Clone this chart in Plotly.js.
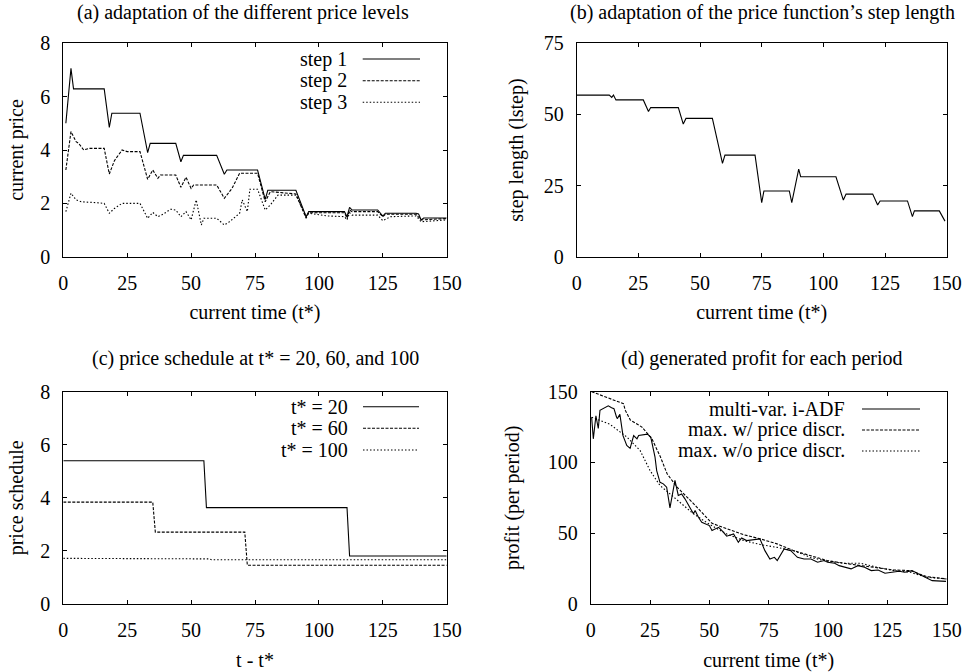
<!DOCTYPE html>
<html>
<head>
<meta charset="utf-8">
<script src="https://cdn.plot.ly/plotly-3.0.1.min.js"></script>
<style>html,body{margin:0;padding:0;background:#fff;}#chart{width:975px;height:672px;}</style>
</head>
<body>
<div id="chart"></div>
<script>
// ---------- (a) adaptation of the different price levels ----------
const aStep1T = [1,3,4,16,18,19,30,33,34,44,46,47,60,63,64,76,79,80,91,95,96,110,111,112,113,123,125,126,138,139,140,141,150];
const aStep1P = [5.0,7.06,6.29,6.29,4.85,5.38,5.38,3.9,4.25,4.25,3.56,3.8,3.8,3.09,3.25,3.25,2.15,2.49,2.49,1.5,1.69,1.69,1.5,1.85,1.75,1.75,1.52,1.63,1.63,1.6,1.38,1.45,1.45];
const aStep2T = [1,3,5,6,8,10,16,18,20,23,25,30,33,35,37,38,44,46,48,50,51,60,63,66,69,76,79,81,91,95,96,110,111,112,113,123,125,126,138,140,150];
const aStep2P = [3.25,4.69,4.31,4.25,4.0,4.06,4.06,3.1,3.6,4.0,3.94,3.94,2.9,3.25,2.94,3.06,3.06,2.6,2.98,2.56,2.69,2.69,2.19,2.56,3.13,3.13,2.06,2.44,2.35,1.44,1.65,1.65,1.44,1.75,1.69,1.69,1.5,1.59,1.59,1.38,1.43];
const aStep3T = [1,3,5,7,12,16,18,20,23,30,33,35,37,39,42,44,46,48,50,52,54,55,60,63,65,69,70,72,73,76,79,81,84,91,95,96,103,110,111,112,113,123,125,128,138,140,150];
const aStep3P = [1.69,2.38,2.13,2.06,2.03,2.0,1.63,1.81,2.0,2.0,1.44,1.66,1.5,1.59,1.78,1.75,1.5,1.69,1.38,2.13,1.19,1.44,1.44,1.19,1.31,1.63,2.13,1.69,2.53,2.53,1.75,1.94,2.31,2.31,1.5,1.63,1.53,1.5,1.38,1.65,1.56,1.56,1.35,1.5,1.53,1.31,1.38];
const aLegend = ["step 1","step 2","step 3"];

// ---------- (b) adaptation of the price function's step length ----------
const bT = [0,13.2,14.2,14.9,15.9,27.0,29.1,30.0,41.2,43.2,44.3,55.0,59.1,60.1,72.3,75.0,75.9,86.2,87.2,90.0,90.8,105.1,108.1,109.2,120.0,122.0,123.0,134.1,136.1,136.9,147.0,149.3];
const bL = [56.8,56.8,56.0,56.8,55.1,55.1,51.0,52.4,52.4,46.6,48.6,48.6,32.8,35.7,35.7,19.0,23.1,23.1,19.0,30.8,28.1,28.1,19.9,22.0,22.0,18.2,19.6,19.6,14.1,16.1,16.1,12.5];

// ---------- (c) price schedule at t* = 20, 60, and 100 ----------
const c20T = [0,55,56,111,112,150];
const c20P = [5.4,5.4,3.63,3.63,1.81,1.81];
const c60T = [0,35,36,71,72,150];
const c60P = [3.84,3.84,2.71,2.71,1.46,1.46];
const c100T = [0,28,29,57,58,150];
const c100P = [1.72,1.72,1.70,1.70,1.67,1.67];
const cLegend = ["t* = 20","t* = 60","t* = 100"];

// ---------- (d) generated profit for each period ----------
const dAdfT = [0.4,1.1,2.2,3.2,3.9,5.1,7.4,8.8,9.8,10.9,11.2,12.3,13.6,15.2,16.6,18.1,19.5,20.2,23.9,25.3,27.1,27.8,29.2,30.6,32.0,33.4,34.8,35.5,36.9,38.3,39.7,41.9,43.3,44.0,45.4,46.8,48.2,50.0,51.1,53.9,55.3,57.3,60.2,62.2,63.6,65.7,71.3,73.4,75.5,77.4,78.6,81.5,84.3,87.1,89.9,92.8,95.6,98.4,99.8,102.8,104.7,106.8,109.7,112.6,115.4,118.2,121.1,124.0,126.7,129.9,132.4,135.4,138.2,141.0,143.9,149.7];
const dAdfV = [132,116.7,133,124,136.8,138,140,138.7,138,132,131,134,119,112,110,119,116.7,119,120,117.9,103.8,94.3,86,84.9,82.5,67.9,82.5,87.3,76.7,77.8,74.3,67.2,63.7,66,61.3,57.8,56.6,55.4,51.9,54.2,51.9,47.9,49.5,43.6,46.7,44.8,46,37.7,31.8,33,30.7,38.9,37.7,33,31.8,31.8,29.5,30.7,29.5,28.8,27.1,25.9,24.8,27.1,25.9,23.6,24,21.7,22.4,23.1,22.4,23.6,21.2,18.9,16.5,16.0,16.0];
const dMaxWT = [0.4,8.1,13.8,14.6,16.7,21.6,25.8,29.4,32.2,36.4,43.4,51.1,57.4,64.4,71.5,78.5,85.5,92.5,99.6,106.6,113.6,120.6,127.7,134.7,141.6,150];
const dMaxWV = [150,145,141.5,136.8,130,125,116.7,103.8,92,82.5,70.8,57,53,49,46,42.5,37.7,34.2,30.7,28.8,27.1,25.5,24,23.6,19.3,17.7];
const dMaxWoT = [0.4,8.1,15.2,20.8,25.0,29.2,33.4,37.6,43.3,50.3,57.3,64.4,71.5,78.5,85.5,92.5,99.6,106.6,113.6,120.6,127.7,134.7,141.6,150];
const dMaxWoV = [132,127,118,108.5,94.3,83.7,77.8,72,63.7,56,49.5,44.8,42,40,37.7,33,30.2,28.8,28.8,26,23.6,22.4,18.9,17.7];
const dLegend = ["multi-var. i-ADF","max. w/ price discr.","max. w/o price discr."];

// tick labels
const timeTicks = [0,25,50,75,100,125,150];
const priceTicks = [0,2,4,6,8];
const stepTicks = [0,25,50,75];
const profitTicks = [0,50,100,150];

// ---------- styling ----------
const FONT = "Liberation Serif";
const FS = 20;
const W = 975, H = 672;
const DASH = "3px,1.5px";
const DOT = "1.5px,2px";
const LW = 1.1;
const px = v => v / W;
const py = v => 1 - v / H;

function line(x, y, dash, xa, ya) {
  return {x: x, y: y, xaxis: xa, yaxis: ya, type: "scatter", mode: "lines",
    line: {color: "#000", width: LW, dash: dash}, showlegend: false, hoverinfo: "skip"};
}

const data = [
  line(aStep1T, aStep1P, "solid", "x", "y"),
  line(aStep2T, aStep2P, DASH, "x", "y"),
  line(aStep3T, aStep3P, DOT, "x", "y"),
  line(bT, bL, "solid", "x2", "y2"),
  line(c20T, c20P, "solid", "x3", "y3"),
  line(c60T, c60P, DASH, "x3", "y3"),
  line(c100T, c100P, DOT, "x3", "y3"),
  line(dAdfT, dAdfV, "solid", "x4", "y4"),
  line(dMaxWT, dMaxWV, DASH, "x4", "y4"),
  line(dMaxWoT, dMaxWoV, DOT, "x4", "y4")
];

function xax(domain, anchor, title) {
  return {domain: domain, anchor: anchor, range: [0, 150], tickvals: timeTicks, ticktext: timeTicks.map(String),
    showline: true, linecolor: "#000", linewidth: 1, mirror: "allticks", ticks: "inside", ticklen: 4,
    tickcolor: "#000", showgrid: false, zeroline: false, ticklabelstandoff: 8,
    tickfont: {family: FONT, size: FS, color: "#000"},
    title: {text: title, font: {family: FONT, size: FS, color: "#000"}, standoff: 12}, automargin: false, fixedrange: true};
}
function yax(domain, anchor, range, ticks, title, standoff) {
  return {domain: domain, anchor: anchor, range: range, tickvals: ticks, ticktext: ticks.map(String),
    showline: true, linecolor: "#000", linewidth: 1, mirror: "allticks", ticks: "inside", ticklen: 4,
    tickcolor: "#000", showgrid: false, zeroline: false, ticklabelstandoff: 8,
    tickfont: {family: FONT, size: FS, color: "#000"},
    title: {text: title, font: {family: FONT, size: FS, color: "#000"}, standoff: standoff}, automargin: false, fixedrange: true};
}

const xA = [px(63.3), px(446.7)], xB = [px(576.7), px(946.7)], xD = [px(590.7), px(946.7)];
const yTop = [py(256.7), py(43.3)], yBot = [py(604), py(391.7)];

const annotations = [];
const shapes = [];
function title(text, xc, yc) {
  annotations.push({text: text, xref: "paper", yref: "paper", x: px(xc), y: py(yc), xanchor: "center", yanchor: "middle",
    showarrow: false, font: {family: FONT, size: FS, color: "#000"}});
}
function legend(labels, textRight, lx0, lx1, rows) {
  const dashes = ["solid", DASH, DOT];
  labels.forEach((lab, i) => {
    annotations.push({text: lab, xref: "paper", yref: "paper", x: px(textRight), y: py(rows[i]), xanchor: "right", yanchor: "middle",
      showarrow: false, font: {family: FONT, size: FS, color: "#000"}});
    shapes.push({type: "line", xref: "paper", yref: "paper", x0: px(lx0), x1: px(lx1), y0: py(rows[i]), y1: py(rows[i]),
      line: {color: "#000", width: LW, dash: dashes[i]}});
  });
}
title("(a) adaptation of the different price levels", 243, 12);
title("(b) adaptation of the price function\u2019s step length", 762, 12);
title("(c) price schedule at t* = 20, 60, and 100", 255, 358);
title("(d) generated profit for each period", 762, 358);
legend(aLegend, 349, 362.7, 420, [59, 80.7, 102.3]);
legend(cLegend, 350, 363, 419, [406.7, 428.3, 450]);
legend(dLegend, 847, 862, 920, [409, 430, 451]);

const layout = {
  width: W, height: H, margin: {l: 0, r: 0, t: 0, b: 0}, paper_bgcolor: "#fff", plot_bgcolor: "#fff",
  showlegend: false, font: {family: FONT, size: FS, color: "#000"},
  xaxis: xax(xA, "y", "current time (t*)"),
  yaxis: yax(yTop, "x", [0, 8], priceTicks, "current price", 11),
  xaxis2: xax(xB, "y2", "current time (t*)"),
  yaxis2: yax(yTop, "x2", [0, 75], stepTicks, "step length (lstep)", 14),
  xaxis3: xax(xA, "y3", "t - t*"),
  yaxis3: yax(yBot, "x3", [0, 8], priceTicks, "price schedule", 11),
  xaxis4: xax(xD, "y4", "current time (t*)"),
  yaxis4: yax(yBot, "x4", [0, 150], profitTicks, "profit (per period)", 22),
  annotations: annotations, shapes: shapes
};
Plotly.newPlot("chart", data, layout, {staticPlot: true, displayModeBar: false});
</script>
</body>
</html>
